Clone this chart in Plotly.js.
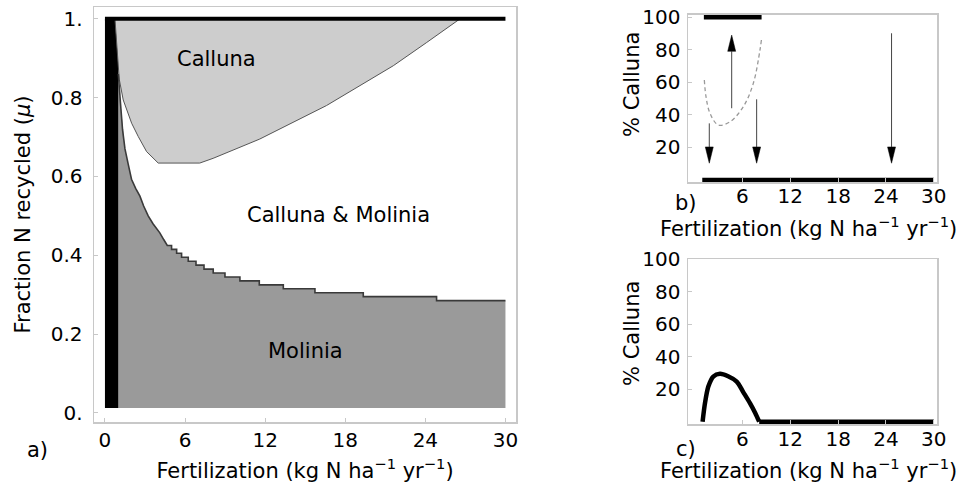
<!DOCTYPE html>
<html><head><meta charset="utf-8">
<script src="https://cdn.plot.ly/plotly-3.0.1.min.js"></script>
<style>html,body{margin:0;padding:0;background:#fff}#chart{width:964px;height:483px}</style>
</head><body><div id="chart"></div>
<script>
// ---------------- Panel a: regions in (fertilization, mu) ----------------
const fertTicks = [0, 6, 12, 18, 24, 30];
const muTicks = [0, 0.2, 0.4, 0.6, 0.8, 1.0];
const muTickText = ['0.', '0.2', '0.4', '0.6', '0.8', '1.'];
const noneX = [0, 1];            // fertilization range where no species persists
const muMin = 0.0125, muMax = 1.0, fertMax = 30;
const regionNames = ['Calluna', 'Calluna & Molinia', 'Molinia'];

// Calluna-only region: left edge and floor
const callunaEdgeX = [0.75, 0.9, 1.07, 1.37, 1.62, 2.0, 2.5, 3.12, 3.99, 7.1];
const callunaEdgeY = [1.0, 0.93, 0.847, 0.794, 0.769, 0.735, 0.701, 0.663, 0.634, 0.634];
// Calluna-only region: rising (stepped) right edge
const callunaRiseX = [8.1, 11.6, 16.6, 21.6, 24.1, 26.6];
const callunaRiseY = [0.646, 0.695, 0.78, 0.881, 0.94, 1.0];

// Molinia-only region upper boundary: smooth part
const molSmoothX = [1.0, 1.07, 1.2, 1.32, 1.5, 1.75, 1.99, 2.3, 2.62, 2.9, 3.24, 3.6, 4.11, 4.4];
const molSmoothY = [0.86, 0.82, 0.77, 0.718, 0.67, 0.63, 0.593, 0.57, 0.55, 0.525, 0.50, 0.48, 0.457, 0.44];
// stepped part: x where each flat begins, and its level
const molStepX = [4.67, 4.99, 5.37, 5.74, 6.24, 6.82, 7.42, 8.11, 8.99, 10.11, 11.56, 13.36, 15.73, 19.35, 24.84];
const molStepY = [0.425, 0.415, 0.405, 0.395, 0.385, 0.375, 0.365, 0.355, 0.345, 0.335, 0.325, 0.315, 0.305, 0.295, 0.285];

// ---------------- Panel b: equilibria vs fertilization ----------------
const pctTicks = [20, 40, 60, 80, 100];
const fertTicksB = [6, 12, 18, 24, 30];
const bUpperX = [1.16, 8.4], bUpperY = [100, 100];
const bLowerX = [0.96, 30], bLowerY = [0, 0];
const bUnstableX = [1.22, 1.43, 1.93, 2.97, 4.44, 6.1, 7.36, 8.2, 8.4];
const bUnstableY = [61.5, 51.2, 41.0, 33.8, 35.8, 45.0, 59.4, 80.0, 87.1];
const arrowX = [1.84, 4.65, 7.78, 24.7];
const arrowFrom = [34.8, 44.1, 49.6, 90.2];
const arrowTo = [10.3, 89.1, 10.3, 10.3];

// ---------------- Panel c ----------------
const cX = [1.0, 1.3, 1.72, 2.34, 3.18, 4.2, 5.28, 6.1, 6.94, 7.6, 8.1, 30];
const cY = [0, 11.4, 21.6, 27.8, 29.5, 28.0, 24.7, 18.2, 11.4, 5.4, 0, 0];

// ---------------- build traces ----------------
const FONT = 'DejaVu Sans, Liberation Sans, Arial, sans-serif';
const traces = [];

// Molinia region polygon
const molX = [noneX[1]].concat(molSmoothX);
const molY = [muMin].concat(molSmoothY);
const molLineX = molSmoothX.slice(), molLineY = molSmoothY.slice();
for (let i = 0; i < molStepX.length; i++) {
  const xEnd = (i + 1 < molStepX.length) ? molStepX[i + 1] : fertMax;
  molLineX.push(molStepX[i], xEnd);
  molLineY.push(molStepY[i], molStepY[i]);
}
traces.push({x: molX.concat(molLineX.slice(molSmoothX.length), [fertMax]),
  y: molY.concat(molLineY.slice(molSmoothX.length), [muMin]),
  type: 'scatter', mode: 'lines', fill: 'toself', fillcolor: '#9a9a9a',
  line: {width: 0}, hoverinfo: 'skip', xaxis: 'x', yaxis: 'y'});
// no-species column
traces.push({x: [noneX[0], noneX[1], noneX[1], noneX[0]], y: [muMin, muMin, muMax, muMax],
  type: 'scatter', mode: 'lines', fill: 'toself', fillcolor: '#000', line: {width: 0},
  hoverinfo: 'skip', xaxis: 'x', yaxis: 'y'});
// Calluna region
traces.push({x: callunaEdgeX.concat(callunaRiseX), y: callunaEdgeY.concat(callunaRiseY),
  type: 'scatter', mode: 'lines', fill: 'toself', fillcolor: '#cdcdcd',
  line: {color: '#555', width: 1}, hoverinfo: 'skip', xaxis: 'x', yaxis: 'y'});
// Molinia boundary line
traces.push({x: molLineX, y: molLineY, type: 'scatter', mode: 'lines',
  line: {color: '#3a3a3a', width: 1.6}, hoverinfo: 'skip', xaxis: 'x', yaxis: 'y'});
// top row
traces.push({x: [noneX[0], fertMax], y: [muMax, muMax], type: 'scatter', mode: 'lines',
  line: {color: '#000', width: 4}, hoverinfo: 'skip', xaxis: 'x', yaxis: 'y'});

// Panel b
traces.push({x: bUpperX, y: bUpperY, type: 'scatter', mode: 'lines', line: {color: '#000', width: 4.5}, xaxis: 'x2', yaxis: 'y2'});
traces.push({x: bLowerX, y: bLowerY, type: 'scatter', mode: 'lines', line: {color: '#000', width: 4.5}, xaxis: 'x2', yaxis: 'y2'});
traces.push({x: bUnstableX, y: bUnstableY, type: 'scatter', mode: 'lines', line: {color: '#999', width: 1.3, dash: '4px,3px', shape: 'spline'}, xaxis: 'x2', yaxis: 'y2'});
const headLen = 10, headHalf = 0.5;
const shaftX = [], shaftY = [], headX = [], headY = [];
for (let i = 0; i < arrowX.length; i++) {
  const dir = Math.sign(arrowTo[i] - arrowFrom[i]);
  shaftX.push(arrowX[i], arrowX[i], null);
  shaftY.push(arrowFrom[i], arrowTo[i] - dir * headLen, null);
  headX.push(arrowX[i] - headHalf, arrowX[i] + headHalf, arrowX[i], arrowX[i] - headHalf, null);
  headY.push(arrowTo[i] - dir * headLen, arrowTo[i] - dir * headLen, arrowTo[i], arrowTo[i] - dir * headLen, null);
}
traces.push({x: shaftX, y: shaftY, type: 'scatter', mode: 'lines', line: {color: '#444', width: 1}, xaxis: 'x2', yaxis: 'y2'});
traces.push({x: headX, y: headY, type: 'scatter', mode: 'lines', fill: 'toself', fillcolor: '#000', line: {color: '#000', width: 0.5}, xaxis: 'x2', yaxis: 'y2'});

// Panel c: hump (smoothed) and flat tail
const humpEnd = cY.indexOf(0, 1);
traces.push({x: cX.slice(0, humpEnd + 1), y: cY.slice(0, humpEnd + 1), type: 'scatter', mode: 'lines',
  line: {color: '#000', width: 4.5, shape: 'spline', smoothing: 0.8}, xaxis: 'x3', yaxis: 'y3'});
traces.push({x: cX.slice(humpEnd), y: cY.slice(humpEnd), type: 'scatter', mode: 'lines',
  line: {color: '#000', width: 4.5}, xaxis: 'x3', yaxis: 'y3'});

const frame = {showline: true, mirror: true, linecolor: '#c8c8c8', linewidth: 1.5,
  showgrid: false, zeroline: false, ticks: 'inside', ticklen: 4, tickcolor: '#c8c8c8',
  tickfont: {family: FONT, size: 20, color: '#000'}, fixedrange: true};
const titleFont = {family: FONT, size: 21, color: '#000'};
const fertTitle = 'Fertilization (kg N ha<sup>\u22121</sup> yr<sup>\u22121</sup>)';

const layout = {
  width: 964, height: 483, margin: {l: 0, r: 0, t: 0, b: 0},
  paper_bgcolor: '#fff', plot_bgcolor: '#fff', showlegend: false,
  font: {family: FONT, color: '#000'},
  xaxis: Object.assign({}, frame, {domain: [94/964, 516/964], range: [-0.82, 30.79],
    tickvals: fertTicks, ticktext: fertTicks.map(String), ticklabelstandoff: -1,
    title: {text: fertTitle, font: titleFont}, anchor: 'y'}),
  yaxis: Object.assign({}, frame, {domain: [1 - 422/483, 1 - 7/483], range: [-0.023, 1.03],
    tickvals: muTicks, ticktext: muTickText, ticklabelstandoff: 6,
    title: {text: 'Fraction N recycled (<i>\u03bc</i>)', font: titleFont, standoff: 14}, anchor: 'x'}),
  xaxis2: Object.assign({}, frame, {domain: [688/964, 937/964], range: [-0.83, 30.4],
    tickvals: fertTicksB, ticktext: fertTicksB.map(String), ticklabelstandoff: -5, anchor: 'y2'}),
  yaxis2: Object.assign({}, frame, {domain: [1 - 182.4/483, 1 - 14.9/483], range: [-1.5, 101.5],
    tickvals: pctTicks, ticktext: pctTicks.map(String), ticklabelstandoff: 2, anchor: 'x2'}),
  xaxis3: Object.assign({}, frame, {domain: [688/964, 937/964], range: [-0.83, 30.4],
    tickvals: fertTicksB, ticktext: fertTicksB.map(String), ticklabelstandoff: -4, anchor: 'y3'}),
  yaxis3: Object.assign({}, frame, {domain: [1 - 424.1/483, 1 - 259.3/483], range: [-1.5, 100],
    tickvals: pctTicks, ticktext: pctTicks.map(String), ticklabelstandoff: 2, anchor: 'x3'}),
  annotations: [
    {text: regionNames[0], x: 8.35, y: 0.898, xref: 'x', yref: 'y', showarrow: false, font: titleFont},
    {text: regionNames[1], x: 17.5, y: 0.503, xref: 'x', yref: 'y', showarrow: false, font: titleFont},
    {text: regionNames[2], x: 15.0, y: 0.156, xref: 'x', yref: 'y', showarrow: false, font: titleFont},
    {text: '% Calluna', x: 632/964, y: 1 - 85/483, xref: 'paper', yref: 'paper', textangle: -90,
      xanchor: 'center', yanchor: 'middle', showarrow: false, font: titleFont},
    {text: '% Calluna', x: 632/964, y: 1 - 334/483, xref: 'paper', yref: 'paper', textangle: -90,
      xanchor: 'center', yanchor: 'middle', showarrow: false, font: titleFont},
    {text: fertTitle, x: 808/964, y: 1 - 227/483, xref: 'paper', yref: 'paper',
      xanchor: 'center', yanchor: 'middle', showarrow: false, font: titleFont},
    {text: fertTitle, x: 808/964, y: 1 - 469/483, xref: 'paper', yref: 'paper',
      xanchor: 'center', yanchor: 'middle', showarrow: false, font: titleFont},
    {text: 'a)', x: 37/964, y: 1 - 450/483, xref: 'paper', yref: 'paper', xanchor: 'center', yanchor: 'middle', showarrow: false, font: titleFont},
    {text: 'b)', x: 686/964, y: 1 - 203/483, xref: 'paper', yref: 'paper', xanchor: 'center', yanchor: 'middle', showarrow: false, font: titleFont},
    {text: 'c)', x: 686/964, y: 1 - 449/483, xref: 'paper', yref: 'paper', xanchor: 'center', yanchor: 'middle', showarrow: false, font: titleFont}
  ]
};
Plotly.newPlot('chart', traces, layout, {displayModeBar: false, staticPlot: true});
</script></body></html>
